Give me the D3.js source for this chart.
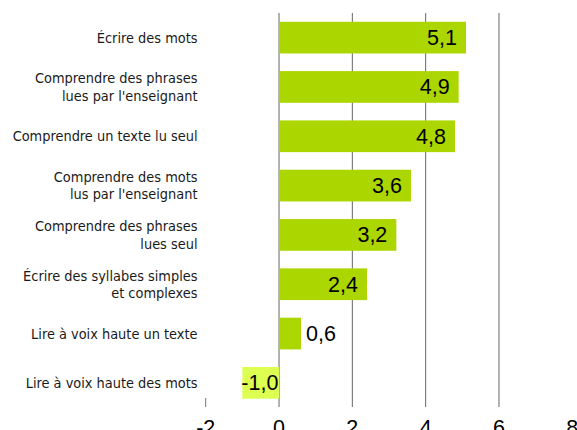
<!DOCTYPE html>
<html>
<head>
<meta charset="utf-8">
<script src="https://cdn.jsdelivr.net/npm/d3@7"></script>
<style>
  html, body { margin: 0; padding: 0; background: #fff; }
  #chart { width: 577px; height: 430px; overflow: hidden; }
</style>
</head>
<body>
<div id="chart"></div>
<script>
// Categories (top to bottom), each label split in lines
const categories = [
  ['Écrire des mots'],
  ['Comprendre des phrases', "lues par l'enseignant"],
  ['Comprendre un texte lu seul'],
  ['Comprendre des mots', "lus par l'enseignant"],
  ['Comprendre des phrases', 'lues seul'],
  ['Écrire des syllabes simples', 'et complexes'],
  ['Lire à voix haute un texte'],
  ['Lire à voix haute des mots']
];
const values = [5.1, 4.9, 4.8, 3.6, 3.2, 2.4, 0.6, -1.0];
const xTicks = [-2, 0, 2, 4, 6, 8];

(function () {
  const W = 577, H = 430;
  const svg = d3.select('#chart').append('svg')
    .attr('width', W).attr('height', H);

  const x = d3.scaleLinear().domain([-2, 8]).range([205.7, 572.3]);
  const y = d3.scaleBand()
    .domain(d3.range(values.length))
    .range([13, 407.5])
    .paddingInner(0.357)
    .paddingOuter(0.178);

  const fmt = v => d3.format('.1f')(v).replace('.', ',').replace('−', '-');

  // grid lines
  const grid = svg.append('g');
  xTicks.filter(t => t >= 0 && t < 8).forEach(t => {
    grid.append('line')
      .attr('x1', x(t)).attr('x2', x(t))
      .attr('y1', 13).attr('y2', 407)
      .attr('stroke', '#666').attr('stroke-width', 1);
  });
  grid.append('line')
    .attr('x1', x(-2)).attr('x2', x(-2))
    .attr('y1', 398).attr('y2', 407)
    .attr('stroke', '#777').attr('stroke-width', 1);

  // bars
  svg.append('g').selectAll('rect')
    .data(values)
    .enter().append('rect')
    .attr('x', d => x(Math.min(0, d)))
    .attr('y', (d, i) => y(i))
    .attr('width', d => Math.abs(x(d) - x(0)))
    .attr('height', y.bandwidth())
    .attr('fill', d => d < 0 ? '#dcff52' : '#acd600');

  // value labels
  svg.append('g').selectAll('text')
    .data(values)
    .enter().append('text')
    .attr('x', d => {
      if (d < 0) return x(d) - 1;
      if (d < 1) return x(d) + 5;
      return x(d) - 9;
    })
    .attr('y', (d, i) => y(i) + y.bandwidth() / 2)
    .attr('dy', '0.35em')
    .attr('text-anchor', d => (d < 1) ? 'start' : 'end')
    .style('font-family', '"Liberation Sans", Arial, sans-serif')
    .style('font-size', '21.5px')
    .style('fill', '#000')
    .text(d => fmt(d));

  // category labels
  const lineH = 17.3;
  const labels = svg.append('g').selectAll('text')
    .data(categories)
    .enter().append('text')
    .attr('text-anchor', 'end')
    .style('font-family', '"DejaVu Sans Condensed", sans-serif')
    .style('font-size', '14.4px')
    .style('fill', '#1a1a1a');
  labels.each(function (lines, i) {
    const cy = y(i) + y.bandwidth() / 2;
    const top = cy - (lines.length - 1) * lineH / 2;
    d3.select(this).selectAll('tspan')
      .data(lines)
      .enter().append('tspan')
      .attr('x', 197.5)
      .attr('y', (l, j) => top + j * lineH)
      .attr('dy', '0.35em')
      .text(l => l);
  });

  // x axis tick labels
  svg.append('g').selectAll('text')
    .data(xTicks)
    .enter().append('text')
    .attr('x', d => x(d))
    .attr('y', 435)
    .attr('text-anchor', 'middle')
    .style('font-family', '"Liberation Sans", Arial, sans-serif')
    .style('font-size', '21.5px')
    .style('fill', '#000')
    .text(d => String(d));
})();
</script>
</body>
</html>
